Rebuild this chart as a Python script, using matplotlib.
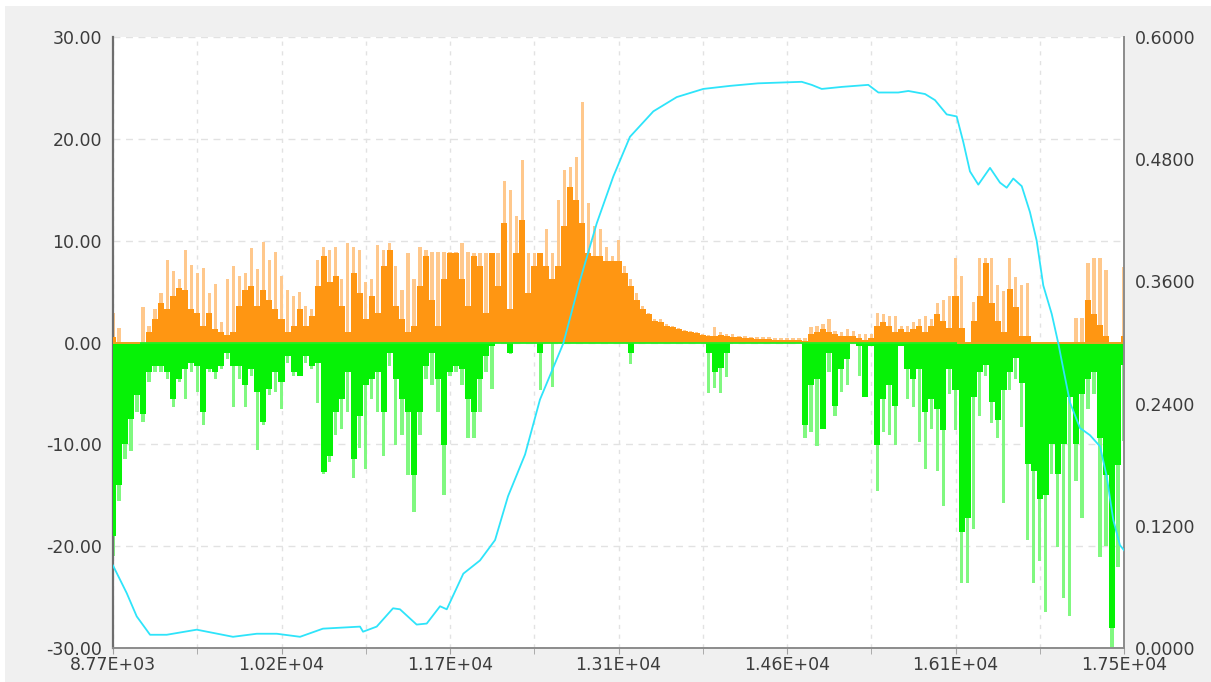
import numpy as np
import matplotlib.pyplot as plt
from matplotlib.patches import Rectangle

# x range of the record
x_start, x_end = 8770, 17500

# positive part (orange): peak of the spikes and the solid lower part
orange_peak = [
    2.9, 1.4, 0, 0, 0, 3.5, 1.6, 3.3, 4.9, 8.1,
    7.0, 6.2, 9.1, 7.6, 6.8, 7.3, 4.9, 5.7, 2.0, 6.2,
    7.5, 6.5, 6.8, 9.3, 7.2, 9.9, 8.1, 8.9, 6.5, 5.2,
    4.6, 5.0, 3.6, 3.3, 8.1, 9.4, 9.1, 9.4, 6.2, 9.8,
    9.4, 9.1, 5.9, 6.2, 9.6, 9.1, 9.8, 7.5, 5.2, 8.8,
    6.2, 9.4, 9.1, 8.9, 8.9, 8.9, 8.9, 8.9, 9.8, 8.9,
    8.8, 8.8, 8.8, 8.8, 8.8, 15.9, 15.0, 12.4, 17.9, 8.8,
    8.8, 8.8, 11.1, 8.8, 14.0, 16.9, 17.2, 18.2, 23.6, 13.7,
    11.4, 11.1, 9.4, 8.5, 10.1, 7.5, 6.2, 4.9, 3.6, 2.9,
    2.3, 2.3, 1.8, 1.6, 1.4, 1.2, 1.1, 1.0, 0.8, 0.7,
    1.5, 1.0, 0.8, 0.8, 0.65, 0.6, 0.55, 0.5, 0.55, 0.55,
    0.4, 0.4, 0.4, 0.4, 0.4, 0.4, 1.5, 1.6, 1.8, 2.3,
    1.1, 1.0, 1.3, 1.1, 0.8, 0.8, 0.8, 2.9, 2.8, 2.6,
    2.6, 1.6, 1.6, 2.0, 2.3, 2.6, 2.3, 3.9, 4.2, 4.6,
    8.3, 6.5, 0, 4.0, 8.3, 8.3, 8.3, 5.6, 5.1, 8.3,
    6.4, 5.6, 5.8, 0, 0, 0, 0, 0, 0, 0,
    2.4, 2.4, 7.8, 8.3, 8.3, 7.1, 0, 0, 7.4,
]
orange_body = [
    0.5, 0, 0, 0, 0, 0, 1.0, 2.3, 3.9, 3.3,
    4.6, 5.4, 5.2, 3.3, 2.9, 1.6, 2.9, 1.3, 1.0, 0.7,
    1.0, 3.6, 5.2, 5.5, 3.6, 5.2, 4.2, 3.3, 2.3, 1.0,
    1.6, 3.3, 1.6, 2.6, 5.5, 8.5, 5.9, 6.5, 3.6, 1.0,
    6.8, 4.9, 2.3, 4.6, 2.9, 7.5, 9.1, 3.6, 2.3, 1.0,
    1.6, 5.5, 8.5, 4.2, 1.6, 6.2, 8.8, 8.8, 6.2, 3.6,
    8.5, 7.5, 2.9, 8.8, 5.5, 11.7, 3.3, 8.8, 12.0, 4.9,
    7.5, 8.8, 7.5, 6.2, 7.5, 11.4, 15.3, 14.0, 11.7, 8.8,
    8.5, 8.5, 8.0, 8.0, 8.0, 6.8, 5.5, 4.2, 3.3, 2.8,
    2.1, 2.0, 1.6, 1.5, 1.3, 1.1, 1.0, 0.9, 0.75, 0.65,
    0.65, 0.7, 0.65, 0.5, 0.5, 0.4, 0.4, 0.35, 0.33, 0.3,
    0.26, 0.26, 0.26, 0.23, 0.23, 0.16, 0.8, 1.0, 1.3, 1.0,
    0.8, 0.65, 0.65, 0.6, 0.4, 0.26, 0.4, 1.6, 2.0, 1.6,
    1.0, 1.3, 1.0, 1.3, 1.6, 1.0, 1.6, 2.8, 2.1, 1.4,
    4.6, 1.4, 0, 2.1, 4.6, 7.8, 3.9, 2.1, 1.0, 5.3,
    3.5, 0.6, 0.6, 0, 0, 0, 0, 0, 0, 0,
    0, 0, 4.2, 2.8, 1.7, 0.6, 0, 0, 0.6,
]

# negative part (green)
green_peak = [
    -21.0, -15.6, -11.4, -10.7, -6.8, -7.8, -3.9, -2.9, -2.9, -3.6,
    -6.3, -3.9, -5.5, -2.9, -4.9, -8.1, -2.9, -3.6, -2.6, -1.6,
    -6.3, -3.6, -6.3, -3.3, -10.6, -8.1, -5.2, -4.9, -6.5, -2.0,
    -3.3, -3.3, -2.0, -2.6, -5.9, -12.9, -11.7, -9.1, -8.5, -6.8,
    -13.3, -10.4, -12.4, -5.5, -6.8, -11.1, -2.3, -10.1, -9.1, -13.0,
    -16.6, -9.1, -3.6, -4.2, -6.8, -15.0, -3.3, -2.9, -4.2, -9.4,
    -9.4, -6.8, -2.9, -4.6, 0, 0, -1.1, 0, 0, 0,
    0, -4.7, 0, -4.4, 0, 0, 0, 0, 0, 0,
    0, 0, 0, 0, 0, 0, -2.1, 0, 0, 0,
    0, 0, 0, 0, 0, 0, 0, 0, 0, -5.0,
    -4.5, -5.0, -3.4, 0, 0, 0, 0, 0, 0, 0,
    0, 0, 0, 0, 0, -9.4, -8.8, -10.2, -8.5, -2.9,
    -7.2, -4.9, -4.2, 0, -3.3, -5.4, -0.3, -14.6, -8.8, -9.1,
    -10.1, -0.3, -5.5, -6.3, -9.8, -12.4, -8.5, -12.6, -16.1, -5.1,
    -8.6, -23.6, -23.6, -18.3, -7.2, -3.3, -7.9, -9.4, -15.8, -4.7,
    -3.6, -8.3, -19.4, -23.6, -21.5, -26.5, -12.9, -20.1, -25.1, -26.9,
    -13.6, -17.2, -6.5, -5.1, -21.1, -20.0, -30.0, -22.0, -9.7,
]
green_body = [
    -19.0, -14.0, -10.0, -7.5, -5.2, -7.0, -2.9, -2.3, -2.3, -2.9,
    -5.5, -3.6, -2.6, -2.0, -2.3, -6.8, -2.6, -2.9, -2.3, -1.0,
    -2.3, -2.3, -4.2, -2.6, -4.9, -7.8, -4.6, -2.9, -3.9, -1.3,
    -2.9, -3.3, -1.3, -2.3, -2.0, -12.7, -11.1, -6.8, -5.5, -2.9,
    -11.4, -7.2, -4.2, -3.6, -2.9, -6.8, -1.0, -3.6, -5.5, -6.8,
    -13.0, -6.8, -2.3, -1.0, -3.6, -10.1, -2.9, -2.3, -2.6, -5.5,
    -6.8, -3.6, -1.3, -0.3, 0, 0, -1.0, 0, 0, 0,
    0, -1.0, 0, 0, 0, 0, 0, 0, 0, 0,
    0, 0, 0, 0, 0, 0, -1.0, 0, 0, 0,
    0, 0, 0, 0, 0, 0, 0, 0, 0, -1.0,
    -2.9, -2.5, -1.0, 0, 0, 0, 0, 0, 0, 0,
    0, 0, 0, 0, 0, -8.1, -4.2, -3.6, -8.5, -1.0,
    -6.2, -2.6, -1.6, 0, -0.3, -5.4, -0.3, -10.1, -5.5, -4.2,
    -6.2, -0.3, -2.6, -3.6, -2.6, -6.8, -5.5, -6.5, -8.6, -2.6,
    -4.7, -18.6, -17.2, -5.4, -2.9, -2.2, -5.8, -7.6, -4.7, -2.9,
    -1.5, -4.0, -11.9, -12.6, -15.4, -15.0, -10.0, -12.9, -10.0, -5.4,
    -10.0, -5.1, -3.6, -2.9, -9.4, -13.0, -28.0, -12.0, -2.2,
]

# spans where the orange base line is on top
orange_zero_spans = [(8770, 9003), (16058, 17500)]

# cyan curve (right axis)
cyan_x = [8770, 8888, 8975, 9090, 9234, 9493, 9806, 10011, 10184, 10385,
          10583, 10903, 10929, 11047, 11188, 11248, 11392, 11479, 11594, 11652,
          11795, 11939, 12069, 12181, 12328, 12457, 12658, 12803, 12947, 13090,
          13234, 13436, 13638, 13867, 14098, 14340, 14717, 14803, 14890, 15063,
          15292, 15379, 15551, 15638, 15782, 15868, 15969, 16055, 16112, 16170,
          16242, 16343, 16429, 16487, 16544, 16617, 16688, 16746, 16803, 16876,
          16933, 16976, 17034, 17120, 17206, 17293, 17350, 17407, 17465, 17500]
cyan_y = [0.081, 0.054, 0.031, 0.013, 0.013, 0.018, 0.011, 0.014, 0.014, 0.011,
          0.019, 0.021, 0.016, 0.021, 0.039, 0.038, 0.023, 0.024, 0.041, 0.038,
          0.073, 0.086, 0.106, 0.149, 0.190, 0.244, 0.299, 0.361, 0.417, 0.463,
          0.502, 0.527, 0.541, 0.549, 0.552, 0.5545, 0.556, 0.553, 0.549, 0.551,
          0.553, 0.5455, 0.5455, 0.547, 0.544, 0.538, 0.524, 0.522, 0.497, 0.468,
          0.455, 0.4715, 0.457, 0.452, 0.461, 0.4535, 0.428, 0.400, 0.356, 0.328,
          0.299, 0.274, 0.241, 0.216, 0.209, 0.198, 0.169, 0.126, 0.101, 0.096]

x_labels = ['8.77E+03', '1.02E+04', '1.17E+04', '1.31E+04',
            '1.46E+04', '1.61E+04', '1.75E+04']

x = np.linspace(x_start, x_end, len(orange_peak))
step = x[1] - x[0]

text_col = '#3c3c3c'
plt.rcParams['font.family'] = 'DejaVu Sans'

fig = plt.figure(figsize=(12.11, 6.82), dpi=100)
fig.patch.set_facecolor('white')
fig.patches.append(Rectangle((5 / 1211, 0), 1, 1 - 6 / 682, transform=fig.transFigure,
                             facecolor='#f0f0f0', edgecolor='none', zorder=-10))

ax = fig.add_axes([113 / 1211, 34 / 682, 1011 / 1211, 611 / 682])
ax.set_facecolor('white')

# light thin spikes behind, solid part in front
ax.bar(x, orange_peak, width=step * 0.55, color='#ffc88c', linewidth=0, zorder=2)
ax.bar(x, orange_body, width=step, color='#ff9612', linewidth=0, zorder=3)
ax.bar(x, green_peak, width=step * 0.55, color='#80f880', linewidth=0, zorder=2)
ax.bar(x, green_body, width=step, color='#06f206', linewidth=0, zorder=3)

ax.axhline(0, color='#22ee22', lw=1.3, zorder=4)
for a, b in orange_zero_spans:
    ax.hlines(0, a, b, color='#ff9a20', lw=1.3, zorder=5)

ax.set_xlim(x_start, x_end)
ax.set_ylim(-30, 30)
xt = np.linspace(x_start, x_end, 7)
ax.set_xticks(xt)
ax.set_xticklabels(x_labels)
ax.set_xticks(np.linspace(x_start, x_end, 13), minor=True)
ax.set_yticks(np.arange(-30, 31, 10))
ax.set_yticklabels([f'{v:.2f}' for v in np.arange(-30, 31, 10)])
ax.grid(True, which='both', axis='x', color='#e2e2e2', ls=(0, (3, 4)), lw=1, zorder=0)
ax.grid(True, which='major', axis='y', color='#e2e2e2', ls=(0, (5, 4)), lw=1, zorder=0)
ax.set_axisbelow(True)

ax.tick_params(axis='x', which='both', length=4, color='#a0a0a0', labelsize=12.5,
               labelcolor=text_col, pad=2)
ax.tick_params(axis='y', length=0, labelsize=12.5, labelcolor=text_col, pad=8)
for s in ['top', 'right']:
    ax.spines[s].set_visible(False)
ax.spines['left'].set_color('#6e6e6e')
ax.spines['left'].set_linewidth(1.6)
ax.spines['bottom'].set_color('#8c8c8c')
ax.spines['bottom'].set_linewidth(1.4)

ax2 = ax.twinx()
ax2.plot(cyan_x, cyan_y, color='#2ee4fa', lw=1.3, zorder=6)
ax2.set_ylim(0, 0.6)
ax2.set_yticks(np.linspace(0, 0.6, 6))
ax2.set_yticklabels([f'{v:.4f}' for v in np.linspace(0, 0.6, 6)])
ax2.tick_params(axis='y', length=0, labelsize=12.5, labelcolor=text_col, pad=8)
for s in ['top', 'left', 'bottom']:
    ax2.spines[s].set_visible(False)
ax2.spines['right'].set_color('#8c8c8c')
ax2.spines['right'].set_linewidth(1.4)

fig.savefig('out.png', dpi=100, facecolor=fig.get_facecolor())
